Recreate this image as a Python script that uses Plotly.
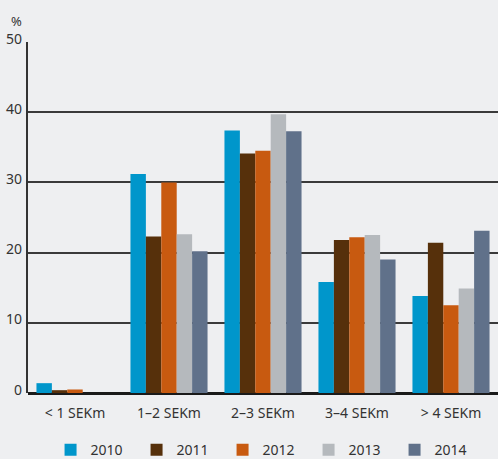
import plotly.graph_objects as go

categories = ["< 1 SEKm", "1–2 SEKm", "2–3 SEKm", "3–4 SEKm", "> 4 SEKm"]
years = ["2010", "2011", "2012", "2013", "2014"]
v2010 = [1.4, 31.2, 37.4, 15.8, 13.8]
v2011 = [0.4, 22.3, 34.1, 21.8, 21.4]
v2012 = [0.5, 30.0, 34.5, 22.2, 12.5]
v2013 = [0.0, 22.6, 39.7, 22.5, 14.9]
v2014 = [0.0, 20.2, 37.3, 19.0, 23.1]
series = [v2010, v2011, v2012, v2013, v2014]
colors = ["#0096CB", "#56300B", "#C85A10", "#B5B9BD", "#60718A"]
ytick_vals = [0, 10, 20, 30, 40, 50]

FONT = "Noto Sans"

fig = go.Figure()
for name, vals, c in zip(years, series, colors):
    fig.add_trace(go.Bar(x=categories, y=vals, name=name, marker=dict(color=c, line=dict(width=0))))

for v in ytick_vals:
    fig.add_annotation(x=0, xref="paper", xanchor="right", xshift=-4, y=v, yref="y",
                       yshift=4, text=str(v), showarrow=False,
                       font=dict(family=FONT, size=14, color="#333333"))
fig.add_annotation(x=0, xref="paper", xanchor="right", xshift=-4, y=1, yref="paper",
                   yanchor="bottom", yshift=10, text="%", showarrow=False,
                   font=dict(family=FONT, size=13, color="#333333"))

fig.update_layout(
    width=498, height=459,
    margin=dict(l=28, r=0, t=42, b=66, autoexpand=False),
    paper_bgcolor="#EEEFF1", plot_bgcolor="#EEEFF1",
    barmode="group", bargap=0.18, bargroupgap=0,
    font=dict(family=FONT, size=14, color="#333333"),
    showlegend=True,
    legend=dict(orientation="h", x=0.048, xanchor="left", y=-0.117, yanchor="top",
                font=dict(family=FONT, size=14, color="#333333"),
                entrywidth=41, traceorder="normal", bgcolor="rgba(0,0,0,0)"),
    xaxis=dict(showgrid=False, ticks="", showline=False, range=[-0.5, 4.5],
               ticklabelstandoff=10,
               tickfont=dict(family=FONT, size=14, color="#333333")),
    yaxis=dict(range=[0, 50], tickvals=ytick_vals, showticklabels=False,
               showgrid=True, gridcolor="#3a3a3a", gridwidth=1.5,
               zeroline=True, zerolinecolor="#1a1a1a", zerolinewidth=3,
               showline=True, linecolor="#333333", linewidth=1.5),
)

fig.write_html("out.html")
